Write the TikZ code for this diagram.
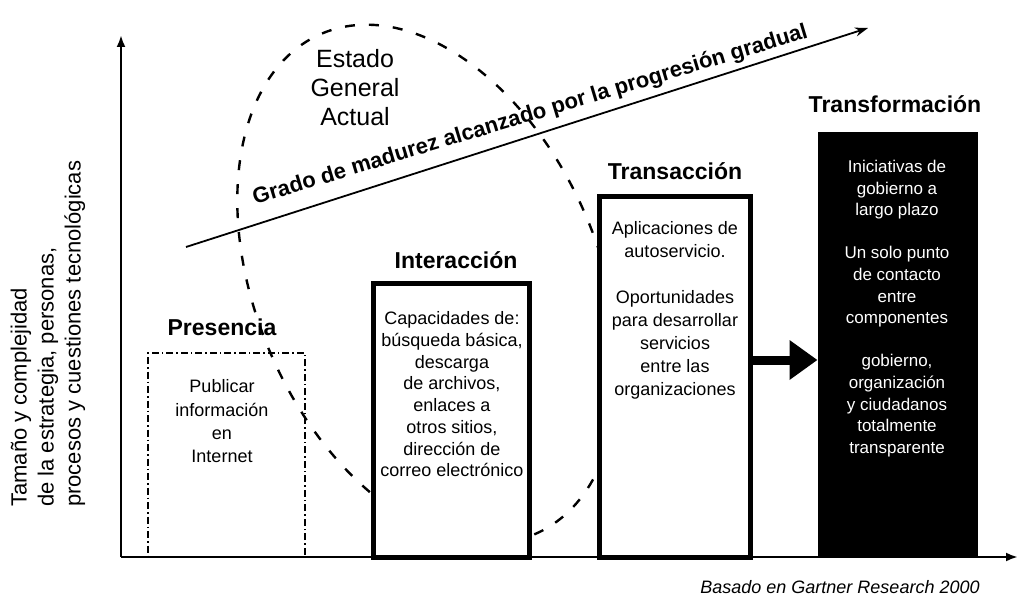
\documentclass[tikz,border=0pt]{standalone}
\usepackage{fontspec}
\setmainfont{Liberation Sans}
\usetikzlibrary{arrows.meta,calc}
\begin{document}
\begin{tikzpicture}[x=1pt,y=-1pt,
  title/.style={font=\fontsize{23}{26}\selectfont\bfseries, inner sep=0, anchor=base},
  body/.style={font=\fontsize{18}{21.7}\selectfont, align=center, inner sep=0, anchor=north},
  axisline/.style={line width=2.6pt, -{Latex[length=12pt,width=9pt]}},
  stagebox/.style={draw, line width=5pt, fill=white, inner sep=0},
  ellline/.style={line width=2.4pt, dash pattern=on 10pt off 14pt},
]
\useasboundingbox (0,0) rectangle (1020,596);

% Presencia box (dash-dotted, unfilled)
\node[draw, line width=1.3pt, dash pattern=on 7pt off 3pt on 1.5pt off 3pt,
      minimum width=157pt, minimum height=204pt, inner sep=0] (pres) at (226.5,455) {};

% current state ellipse
\draw[ellline, rotate around={-67:(428,284)}] (428,284) ellipse [x radius=272pt, y radius=172pt];

% stage boxes
\node[stagebox, minimum width=156pt, minimum height=274pt] (inter) at (451,420) {};
\node[stagebox, minimum width=151pt, minimum height=360pt] (tra) at (674.5,377) {};
\node[draw, fill=black, line width=1pt, minimum width=159pt, minimum height=424pt, inner sep=0] (tfm) at (897.5,345) {};

% titles
\node[title] (tpres) at (222,335) {Presencia};
\node[title] (tinter) at (456,268) {Interacción};
\node[title] (ttra) at (675,180) {Transacción};
\node[title] (ttfm) at (895,113) {Transformación};

% body texts
\node[body, font=\fontsize{18}{23.3}\selectfont] (bpres) at (222,379.6) {Publicar\\información\\en\\Internet};
\node[body] (binter) at (452,311.6) {Capacidades de:\\búsqueda básica,\\descarga\\de archivos,\\enlaces a\\otros sitios,\\dirección de\\correo electrónico};
\node[body, font=\fontsize{18}{23}\selectfont] (btra) at (675,221.6) {Aplicaciones de\\autoservicio.\\[23pt]Oportunidades\\para desarrollar\\servicios\\entre las\\organizaciones};
\node[body, text=white, font=\fontsize{17}{21.6}\selectfont] (btfm) at (897,160) {Iniciativas de\\gobierno a\\largo plazo\\[21.6pt]Un solo punto\\de contacto\\entre\\componentes\\[21.6pt]gobierno,\\organización\\y ciudadanos\\totalmente\\transparente};

% big arrow between Transaccion and Transformacion
\coordinate (ay) at (780,360);
\draw[line width=9pt, -{Triangle[length=28pt,width=38pt]}] (tra.east |- ay) -- (tfm.west |- ay);

% maturity arrow and label
\coordinate (g0) at (186,247);
\coordinate (g1) at (868,28);
\draw[line width=1.8pt, -{Stealth[length=13pt,width=9pt]}] (g0) -- (g1);
\node[rotate=16.8, anchor=base, inner sep=0, font=\fontsize{22}{26}\selectfont\bfseries] (grado) at (532,121) {Grado de madurez alcanzado por la progresión gradual};

% Estado General Actual
\node[font=\fontsize{25}{29}\selectfont, align=center, anchor=north, inner sep=0] (estado) at (355,49) {Estado\\General\\Actual};

% axes
\coordinate (o) at (121,557);
\coordinate (ytop) at (121,35);
\coordinate (xend) at (1018,557);
\draw[axisline] (o) -- (ytop);
\draw[axisline] (o) -- (xend);

% y-axis label
\node[rotate=90, anchor=west, align=left, inner sep=0, font=\fontsize{22}{27}\selectfont] (ylab) at (48,507) {Tamaño y complejidad\\de la estrategia, personas,\\procesos y cuestiones tecnológicas};

% source
\node[font=\fontsize{18}{20}\selectfont\itshape, anchor=base, inner sep=0] (src) at (840,593) {Basado en Gartner Research 2000};
\end{tikzpicture}
\end{document}
